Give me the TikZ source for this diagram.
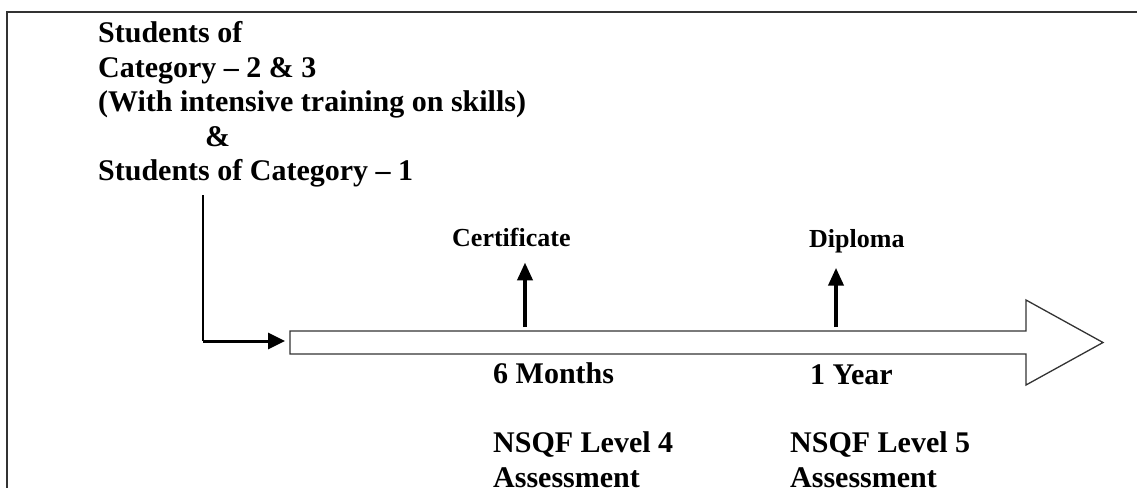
\documentclass[tikz,border=0pt]{standalone}
\usepackage{fontspec}
\setmainfont{Liberation Serif}
\usetikzlibrary{arrows.meta}
\begin{document}
\begin{tikzpicture}[x=1pt,y=-1pt,
  big/.style={font=\bfseries\fontsize{30}{34.5}\selectfont, inner sep=0pt, anchor=base west},
  small/.style={font=\bfseries\fontsize{26}{30}\selectfont, inner sep=0pt, anchor=base west},
  frameline/.style={line width=1.5pt, draw=black!80},
  outline/.style={line width=1.3pt, draw=black!80, fill=white, line join=miter},
  thinline/.style={line width=1.2pt, draw=black},
  thickarrow/.style={line width=3pt, draw=black, -{Triangle[length=17pt,width=16pt]}},
  uparrow/.style={line width=4pt, draw=black, -{Triangle[length=18pt,width=15pt]}}]
\useasboundingbox (0,0) rectangle (1137,488);
% frame
\coordinate (fTR) at (1137,12);
\coordinate (fTL) at (7,12);
\coordinate (fBL) at (7,488);
\draw[frameline] (fTR) -- (fTL) -- (fBL);
% source text
\node[big, align=left, anchor=north west] (src) at (98,21.5)
  {Students of\\Category -- 2 \& 3\\(With intensive training on skills)\\\hspace{107pt}\&\\Students of Category -- 1};
% big timeline arrow
\draw[outline] (290,331) -- (1026,331) -- (1026,300) -- (1103,342.5) -- (1026,385) -- (1026,354) -- (290,354) -- cycle;
\coordinate (barW) at (290,342.5);
% connector from source to timeline
\coordinate (s0) at (203,195);
\coordinate (s1) at (203,341);
\coordinate (s2) at (290,341);
\draw[thinline] (s0) -- (s1);
\draw[thickarrow, shorten >=5pt] (s1) -- (s2);
% labels above
\node[small] (cert) at (452,246) {Certificate};
\node[small] (dipl) at (809,247) {Diploma};
\coordinate (a1) at (525,327);
\coordinate (a2) at (836,327);
\draw[uparrow, shorten >=16pt] (a1) -- (a1 |- cert.south);
\draw[uparrow, shorten >=15pt] (a2) -- (a2 |- dipl.south);
% labels below
\node[big] (m6) at (493,383) {6 Months};
\node[big] (y1) at (810,384) {1 Year};
\node[big, align=left, anchor=north west] (nq4) at (493,431.5) {NSQF Level 4\\Assessment};
\node[big, align=left, anchor=north west] (nq5) at (790,431.5) {NSQF Level 5\\Assessment};
\end{tikzpicture}
\end{document}
